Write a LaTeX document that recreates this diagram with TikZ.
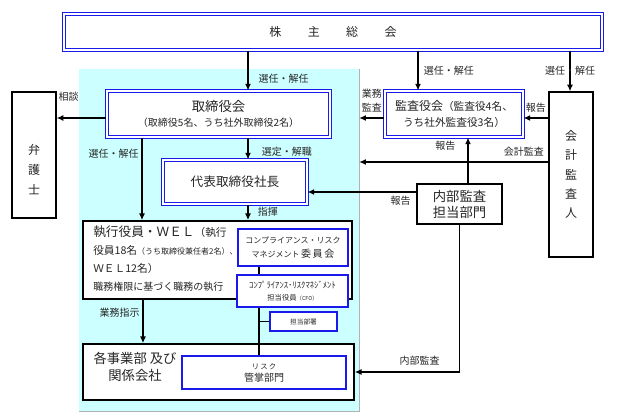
\documentclass[tikz,border=0pt]{standalone}
\usepackage{fontspec}
\setmainfont{Noto Sans CJK JP}
\usetikzlibrary{arrows.meta, positioning, calc}

\definecolor{panelcyan}{RGB}{204,255,255}
\definecolor{frameblue}{RGB}{25,25,235}
\newcommand{\fsz}[2]{\fontsize{#1}{#2}\selectfont}

\begin{document}
\begin{tikzpicture}[
	x=0.75pt, y=-0.75pt,
	every node/.style={inner sep=0pt, text=black!85, font=\fsz{7.5}{9}},
	sz/.style 2 args={minimum width=#1*0.75pt, minimum height=#2*0.75pt},
	dblbox/.style={
		rectangle, draw=frameblue, double=white, double distance=1.3pt,
		line width=0.8pt, fill=white, align=center
	},
	blkbox/.style={rectangle, draw=black, line width=1.2pt, fill=white, align=center},
	bluebox/.style={rectangle, draw=frameblue, line width=0.8pt, fill=white, align=center},
	arrow/.style={-{Latex[length=5pt,width=4.5pt]}, line width=0.9pt}
	]
	\useasboundingbox (0,0) rectangle (628,420);
	
	% Background panel
	\node[fill=panelcyan, sz={280}{342}] (panel) at (219,240) {};
	\draw[gray!60, line width=0.7pt] (panel.north east) -- (panel.south east) -- (panel.south west);
	
	% Nodes
	\node[dblbox, sz={538}{36}, font=\fsz{9}{11}] (soukai) at (333,32)
		{株\hspace{2.2em}主\hspace{2.2em}総\hspace{2.2em}会};
	\node[dblbox, sz={223}{46}] (torishimari) at (218.5,114)
		{{\fsz{10}{12}取締役会}\\[2pt]（取締役5名、うち社外取締役2名）};
	\node[dblbox, sz={144}{44}, font=\fsz{9.5}{12}] (daihyo) at (235,182) {代表取締役社長};
	\node[dblbox, sz={138}{46}, font=\fsz{8}{12}] (kansa) at (454,114)
		{{\fsz{9}{12}監査役会}（監査役4名、\\うち社外監査役3名）};
	\node[blkbox, sz={44}{126}, line width=1pt] (bengoshi) at (34,155) {};
	\node[font=\fsz{9}{15}, align=center] (bengoshitxt) at (34,170) {弁\\護\\士};
	\node[blkbox, sz={44}{165}, line width=1pt, font=\fsz{9}{14.5}] (kaikei) at (571,174.5)
		{会\\計\\監\\査\\人};
	\node[blkbox, sz={85}{40}, line width=1pt, font=\fsz{10}{12}] (naibu) at (459.5,204)
		{内部監査\\担当部門};
	
	\node[blkbox, sz={269}{78}, line width=1.3pt] (shikko) at (217.5,260) {};
	\node[anchor=north west, align=left, font=\fsz{8}{13.5}] (shikkotxt) at (93,226)
		{{\fsz{9.5}{13.5}執行役員・ＷＥＬ}（執行\\
		 役員18名{\fsz{6}{13.5}（うち取締役兼任者2名）、}\\
		 ＷＥＬ12名）\\
		 {\fsz{7.5}{13.5}職務権限に基づく職務の執行}};
	\node[bluebox, line width=1.5pt, sz={110}{37}, font=\fsz{6}{10}] (iinkai) at (293,247.5)
		{コンプライアンス・リスク\\マネジメント\,{\fsz{7.5}{10}委\,員\,会}};
	\node[bluebox, sz={111}{32}, font=\fsz{6.5}{9}] (cfo) at (292.5,291)
		{ｺﾝﾌﾟﾗｲｱﾝｽ･ﾘｽｸﾏﾈｼﾞﾒﾝﾄ\\{\fsz{5.5}{9}担当役員}{\fsz{4}{9}（CFO）}};
	\node[bluebox, sz={67}{19}, font=\fsz{5}{6}] (tanto) at (303.5,321.5) {担当部署};
	
	\node[blkbox, sz={271}{56}, line width=1.3pt] (jigyo) at (218.5,372) {};
	\node[font=\fsz{10}{13}, align=center] (jigyotxt) at (135,367) {各事業部 及び\\関係会社};
	\node[bluebox, line width=1pt, sz={164}{33}] (risk) at (264,372.5)
		{{\fsz{5.5}{8}リ\,ス\,ク}\\管掌部門};
	
	% Arrows with labels
	\draw[arrow] (soukai.south -| 248,0) -- node[pos=0.71, right=7.5pt] {選任・解任} (torishimari.north -| 248,0);
	\draw[arrow] (soukai.south -| 418,0) -- node[pos=0.51, right=4pt] {選任・解任} (kansa.north -| 418,0);
	\draw[arrow] (soukai.south -| 570,0) -- node[pos=0.5] {選任・解任} (kaikei.north -| 570,0);
	\draw[arrow] (torishimari.west |- 0,118) -- node[pos=0.76, above=12pt] {相談} (bengoshi.east |- 0,118);
	\draw[arrow] (torishimari.south -| 142,0) -- node[pos=0.2, left=2pt] {選任・解任} (shikko.north -| 142,0);
	\draw[arrow] (torishimari.south -| 248,0) -- node[pos=0.65, right=10pt] {選定・解職} (daihyo.north -| 248,0);
	\draw[arrow] (daihyo.south -| 248,0) -- node[pos=0.47, right=7pt] {指揮} (shikko.north -| 248,0);
	\draw[arrow] (kaikei.west |- 0,118) -- node[above=4pt] {報告} (kansa.east |- 0,118);
	\draw[arrow] (kansa.west |- 0,118) -- node[above=4pt, align=center, font=\fsz{7.5}{10.5}] {業務\\監査} (panel.east |- 0,118);
	\draw[arrow] (kaikei.west |- 0,162) -- node[pos=0.13, above=4pt] {会計監査} (panel.east |- 0,162);
	\draw[arrow] (naibu.north -| 468,0) -- node[pos=0.81, left=9pt] {報告} (kansa.south -| 468,0);
	\draw[arrow] (naibu.west |- 0,192) -- node[pos=0.145, below=3pt] {報告} (daihyo.east |- 0,192);
	\draw[arrow] (naibu.south) |- node[pos=0.69, above=4.5pt] {内部監査} (jigyo.east);
	\draw[arrow] (shikko.south -| 143,0) -- node[pos=0.29, left=2pt] {業務指示} (jigyo.north -| 143,0);
	
	% Risk management line
	\draw[line width=0.9pt] (iinkai.south -| 259,0) -- (cfo.north -| 259,0);
	\draw[line width=0.9pt] (cfo.south -| 259,0) -- (risk.north -| 259,0);
	\draw[line width=0.9pt] (tanto.west) -- (tanto.west -| 259,0);
	
\end{tikzpicture}
\end{document}
